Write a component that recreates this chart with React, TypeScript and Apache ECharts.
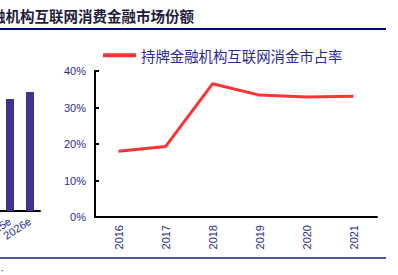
import React, { useEffect, useRef } from "react";
import * as echarts from "echarts";

const years = ["2016", "2017", "2018", "2019", "2020", "2021"];
const shareValues = [18.0, 19.3, 36.5, 33.4, 32.9, 33.1];
const yTicks = [0, 10, 20, 30, 40];
const leftCategories = ["2025e", "2026e"];
const leftValues = [32000, 34000];
const titleText = "图：持牌金融机构互联网消费金融市场份额";
const legendName = "持牌金融机构互联网消金市占率";
const footText = "资料来源：";

const NAVY = "#2a2a92";
const CJK = "'Noto Sans CJK SC', 'Noto Sans', sans-serif";
const LATIN = "'Liberation Sans', Arial, sans-serif";

export default function App() {
  const ref = useRef<HTMLDivElement>(null);
  useEffect(() => {
    if (!ref.current) return;
    const chart = echarts.init(ref.current, null, { renderer: "svg" });
    chart.setOption({
      animation: false,
      backgroundColor: "#ffffff",
      legend: {
        left: 103,
        top: 48,
        padding: 0,
        itemWidth: 33,
        itemHeight: 4,
        itemGap: 5,
        icon: "rect",
        textStyle: { fontFamily: CJK, fontSize: 14.4, color: NAVY },
        data: [legendName],
      },
      grid: [
        { left: 95, right: 21, top: 71, bottom: 58, outerBoundsMode: "none", containLabel: false },
        { left: 0, width: 40, top: 71, bottom: 64, outerBoundsMode: "none", containLabel: false },
      ],
      xAxis: [
        {
          type: "category",
          gridIndex: 0,
          data: years,
          boundaryGap: true,
          axisLine: { lineStyle: { color: "#000", width: 2 } },
          axisTick: { inside: true, length: 4, lineStyle: { color: "#000", width: 2 } },
          axisLabel: { rotate: 90, margin: 8, fontSize: 11, fontFamily: LATIN, color: NAVY },
        },
        {
          type: "category",
          gridIndex: 1,
          data: leftCategories,
          axisLine: { lineStyle: { color: "#000", width: 2 } },
          axisTick: { inside: true, length: 4, lineStyle: { color: "#000", width: 1.5 } },
          axisLabel: {
            rotate: 33,
            margin: 9,
            fontSize: 11,
            fontFamily: LATIN,
            color: NAVY,
            interval: 0,
            hideOverlap: false,
          },
        },
      ],
      yAxis: [
        {
          type: "value",
          gridIndex: 0,
          min: 0,
          max: 40,
          interval: 10,
          splitLine: { show: false },
          axisLine: { show: true, lineStyle: { color: "#000", width: 2 } },
          axisTick: { show: true, inside: true, length: 4, lineStyle: { color: "#000", width: 2 } },
          axisLabel: {
            margin: 9,
            fontSize: 11,
            fontFamily: LATIN,
            color: NAVY,
            formatter: (v: number) => (yTicks.includes(v) ? v + "%" : ""),
          },
        },
        {
          type: "value",
          gridIndex: 1,
          min: 0,
          max: 40000,
          show: false,
          splitLine: { show: false },
        },
      ],
      series: [
        {
          name: legendName,
          type: "line",
          xAxisIndex: 0,
          yAxisIndex: 0,
          data: shareValues,
          symbol: "none",
          lineStyle: { color: "#ff3333", width: 3 },
          itemStyle: { color: "#ff3333" },
        },
        {
          name: "left",
          type: "bar",
          xAxisIndex: 1,
          yAxisIndex: 1,
          data: leftValues,
          barWidth: 8,
          itemStyle: { color: "#3f3591" },
        },
      ],
      graphic: [
        {
          type: "text",
          x: 194,
          y: 15,
          style: {
            text: titleText,
            font: `bold 14.5px ${CJK}`,
            fill: "#1e1e3c",
            textAlign: "right",
            textVerticalAlign: "middle",
          },
        },
        {
          type: "line",
          shape: { x1: 0, y1: 29, x2: 386, y2: 29 },
          style: { stroke: "#00007a", lineWidth: 2 },
        },
        {
          type: "line",
          shape: { x1: 0, y1: 258, x2: 386, y2: 258 },
          style: { stroke: "#1a1a8a", lineWidth: 1.5 },
        },
        {
          type: "text",
          x: 9,
          y: 272,
          style: {
            text: footText,
            font: `9px ${CJK}`,
            fill: NAVY,
            textAlign: "right",
            textVerticalAlign: "middle",
          },
        },
      ],
    });
    return () => chart.dispose();
  }, []);
  return (
    <div
      ref={ref}
      style={{ position: "absolute", left: 0, top: 0, width: 398, height: 275 }}
    />
  );
}
